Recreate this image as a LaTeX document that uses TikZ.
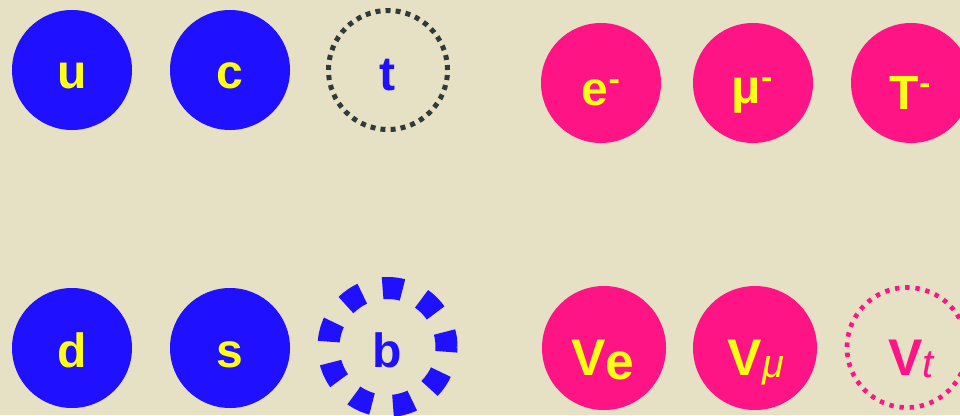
\documentclass[tikz,border=0pt]{standalone}
\usepackage{fontspec}
\setmainfont{Liberation Sans}
\usepackage{xcolor}

\definecolor{paper}{RGB}{230,224,196}
\definecolor{quarkblue}{RGB}{31,16,255}
\definecolor{leptonpink}{RGB}{255,20,133}
\definecolor{chargeyellow}{RGB}{255,255,20}
\definecolor{topgrey}{RGB}{46,59,56}

\newcommand{\bigsz}{\fontsize{41}{41}\selectfont\bfseries}
\newcommand{\nusz}{\fontsize{44}{44}\selectfont\bfseries}
\newcommand{\subsz}{\fontsize{34}{34}\selectfont\mdseries\itshape}
\newcommand{\chg}{\raisebox{0.3em}{\fontsize{29}{29}\selectfont -}}

\tikzset{
  quark/.style={circle, fill=quarkblue, minimum size=3.6cm, inner sep=0pt},
  lepton/.style={circle, fill=leptonpink, minimum size=3.6cm, inner sep=0pt},
  neutrino/.style={lepton, minimum size=3.72cm},
  toptrack/.style={circle, draw=topgrey, line width=0.15cm,
    dash pattern=on 0.15cm off 0.1531cm, minimum size=3.57cm, inner sep=0pt},
  bottomtrack/.style={circle, draw=quarkblue, line width=0.66cm,
    dash pattern=on 0.6cm off 0.6357cm, dash phase=0.145cm,
    minimum size=3.54cm, inner sep=0pt},
  nutautrack/.style={circle, draw=leptonpink, line width=0.14cm,
    dash pattern=on 0.13cm off 0.1757cm, minimum size=3.6cm, inner sep=0pt},
  tag/.style={anchor=base, inner sep=0pt, font=\bigsz},
  nutag/.style={anchor=base, inner sep=0pt, font=\nusz}
}

\begin{document}
\begin{tikzpicture}[x=0.03cm, y=-0.03cm]
  % Background
  \useasboundingbox (0,0) rectangle (960,415);
  \clip (0,0) rectangle (960,415);
  \fill[paper] (0,0) rectangle (960,415);

  % Upper quarks: u, c and the open t
  \node[quark] (u) at (72,70) {};
  \node[tag, text=chargeyellow] (ulbl) at (72,88) {u};
  \node[quark] (c) at (230,70) {};
  \node[tag, text=chargeyellow] (clbl) at (230,88) {c};
  \node[toptrack] (t) at (388,70) {};
  \node[tag, text=quarkblue] (tlbl) at (387,90) {t};

  % Lower quarks: d, s and the dashed b
  \node[quark] (d) at (72,348) {};
  \node[tag, text=chargeyellow] (dlbl) at (72,367) {d};
  \node[quark] (s) at (230,348) {};
  \node[tag, text=chargeyellow] (slbl) at (230,367) {s};
  \node[bottomtrack] (b) at (387.5,347) {};
  \node[tag, text=quarkblue] (blbl) at (387,367) {b};

  % Charged leptons
  \node[lepton] (e) at (601,83) {};
  \node[tag, text=chargeyellow] (elbl) at (601,105) {e\chg};
  \node[lepton] (mu) at (753,83) {};
  \node[tag, text=chargeyellow] (mulbl) at (752,103) {μ\chg};
  \node[lepton] (tau) at (911,83) {};
  \node[tag, text=chargeyellow] (taulbl) at (910,109) {T\chg};

  % Neutrinos
  \node[neutrino] (nue) at (604,348) {};
  \node[nutag, text=chargeyellow] (nuelbl) at (603,375) {V\raisebox{-0.08em}{e}};
  \node[neutrino] (numu) at (755,348) {};
  \node[nutag, text=chargeyellow] (numulbl) at (756,375) {V\raisebox{-0.05em}{\subsz μ}};
  \node[nutautrack] (nutau) at (907,347.5) {};
  \node[nutag, text=leptonpink] (nutaulbl) at (911,375) {V\raisebox{-0.05em}{\subsz t}};
\end{tikzpicture}
\end{document}
